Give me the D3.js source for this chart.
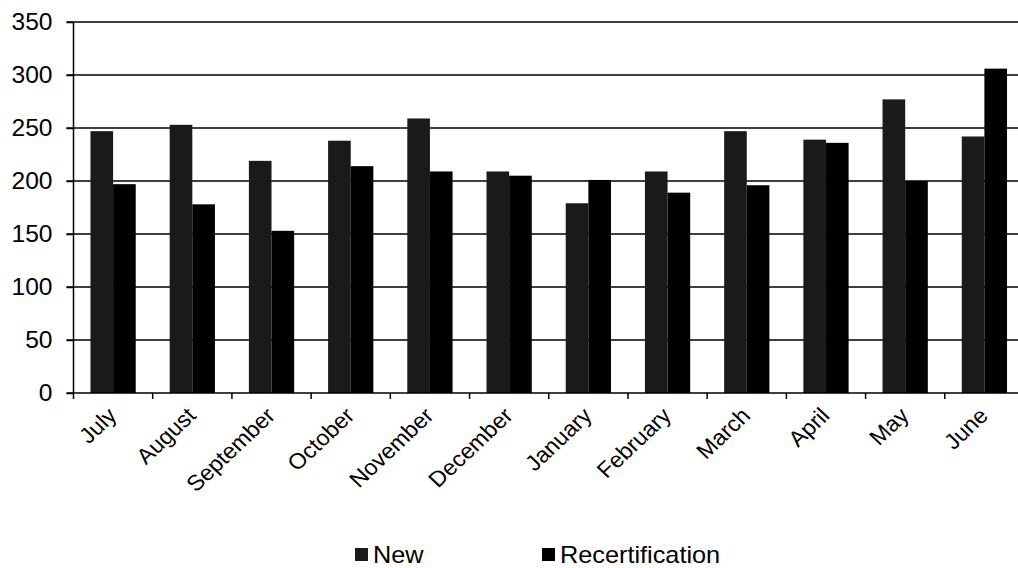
<!DOCTYPE html>
<html>
<head>
<meta charset="utf-8">
<script src="https://cdn.jsdelivr.net/npm/d3@7"></script>
<style>
  html, body { margin: 0; padding: 0; background: #fff; }
  svg { display: block; font-family: "Liberation Sans", Arial, sans-serif; }
</style>
</head>
<body>
<svg id="chart" width="1018" height="568"></svg>
<script>
const categories = ["July", "August", "September", "October", "November", "December",
                    "January", "February", "March", "April", "May", "June"];
const seriesNames = ["New", "Recertification"];
const newValues = [247, 253, 219, 238, 259, 209, 179, 209, 247, 239, 277, 242];
const recertValues = [197, 178, 153, 214, 209, 205, 201, 189, 196, 236, 200, 306];
const yTicks = [0, 50, 100, 150, 200, 250, 300, 350];
const seriesColors = ["#1a1a1a", "#000000"];

const svg = d3.select("#chart");
const margin = { left: 73.5, top: 22, right: 1024, bottom: 393 };

const x = d3.scaleBand().domain(categories).range([margin.left, margin.right]).paddingInner(0).paddingOuter(0);
const groupW = x.bandwidth() * (2 / 3.5);
const x1 = d3.scaleBand().domain(seriesNames).range([0, groupW]);
const y = d3.scaleLinear().domain([0, 350]).range([margin.bottom, margin.top]);

// gridlines
svg.append("g").selectAll("line").data(yTicks.filter(d => d > 0)).join("line")
  .attr("x1", margin.left - 7).attr("x2", margin.right)
  .attr("y1", d => y(d)).attr("y2", d => y(d))
  .attr("stroke", "#000").attr("stroke-width", 1.5);

// bars
const data = [newValues, recertValues];
const gOff = (x.bandwidth() - groupW) / 2;
seriesNames.forEach((s, si) => {
  svg.append("g").selectAll("rect").data(categories).join("rect")
    .attr("x", c => x(c) + gOff + x1(s))
    .attr("width", x1.bandwidth())
    .attr("y", (c, i) => y(data[si][i]))
    .attr("height", (c, i) => y(0) - y(data[si][i]))
    .attr("fill", seriesColors[si]);
});

// y axis
const yAxis = d3.axisLeft(y).tickValues(yTicks).tickSize(7).tickPadding(14);
const yg = svg.append("g").attr("transform", `translate(${margin.left},0)`).call(yAxis);
yg.attr("font-size", null).attr("font-family", null);
yg.select(".domain").attr("stroke", "#000").attr("stroke-width", 1.5).attr("d", `M0,${margin.top}V${margin.bottom}`);
yg.selectAll(".tick line").attr("stroke", "#000").attr("stroke-width", 1.5);
yg.selectAll(".tick text").attr("font-size", 23).attr("fill", "#000")
  .attr("x", 0).attr("transform", "translate(-21,0) scale(1.07,1)");

// x axis line
svg.append("line").attr("x1", margin.left - 7).attr("x2", margin.right)
  .attr("y1", y(0)).attr("y2", y(0)).attr("stroke", "#000").attr("stroke-width", 1.5);
// x ticks at band boundaries
const boundaries = categories.map(c => x(c));
svg.append("g").selectAll("line").data(boundaries).join("line")
  .attr("x1", d => d).attr("x2", d => d)
  .attr("y1", y(0)).attr("y2", y(0) + 6)
  .attr("stroke", "#000").attr("stroke-width", 1.5);

// x labels
svg.append("g").selectAll("text").data(categories).join("text")
  .attr("transform", c => `translate(${x(c) + x.bandwidth() / 2 + 5},${y(0) + 24}) scale(1.06,1) rotate(-45)`)
  .attr("text-anchor", "end")
  .attr("font-size", 22)
  .attr("fill", "#000")
  .text(c => c);

// legend
const legendItems = [
  { name: seriesNames[0], color: seriesColors[0], x: 355 },
  { name: seriesNames[1], color: seriesColors[1], x: 542 }
];
const lg = svg.append("g");
legendItems.forEach(it => {
  lg.append("rect").attr("x", it.x).attr("y", 548).attr("width", 13).attr("height", 13).attr("fill", it.color);
  lg.append("text").attr("transform", `translate(${it.x + 18},563) scale(1.1,1)`)
    .attr("font-size", 23).attr("fill", "#000").text(it.name);
});
</script>
</body>
</html>
